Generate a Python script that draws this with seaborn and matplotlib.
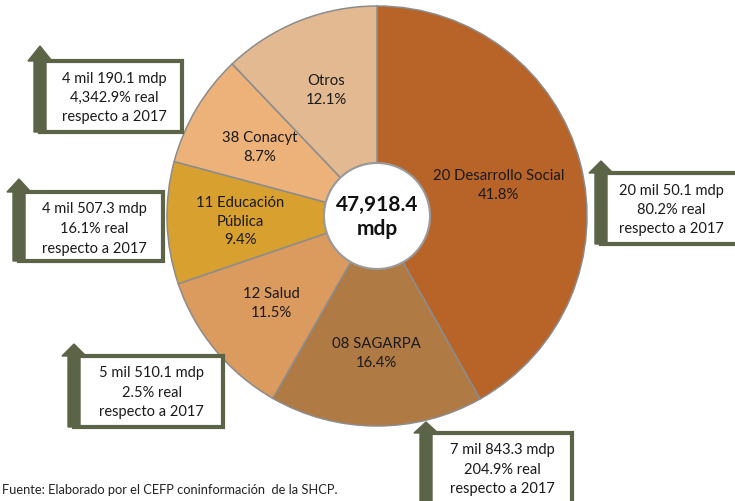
import numpy as np
import matplotlib.pyplot as plt
import seaborn as sns
from matplotlib.patches import Circle, Polygon, Rectangle

sns.set_theme(style="white")
plt.rcParams["font.family"] = ["Lato", "DejaVu Sans"]

# Data
ramos = ["20 Desarrollo Social", "08 SAGARPA", "12 Salud",
         "11 Educación\nPública", "38 Conacyt", "Otros"]
shares = [41.8, 16.4, 11.5, 9.4, 8.7, 12.1]
colors = ["#B86428", "#B07A45", "#DB9A5E", "#D8A02F", "#EDB27A", "#E2B990"]
total_label = "47,918.4\nmdp"

box_texts = [
    "4 mil 190.1 mdp\n4,342.9% real\nrespecto a 2017",
    "4 mil 507.3 mdp\n16.1% real\nrespecto a 2017",
    "5 mil 510.1 mdp\n2.5% real\nrespecto a 2017",
    "7 mil 843.3 mdp\n204.9% real\nrespecto a 2017",
    "20 mil 50.1 mdp\n80.2% real\nrespecto a 2017",
]
# shaft center x, arrow tip y, box top y, box bottom y, box right x (pixels)
box_geom = [
    (40, 47, 62, 133, 182),
    (19, 180, 193, 262, 163),
    (74, 345, 357, 428, 223),
    (426, 423, 434, 510, 572),
    (601, 162, 174, 245, 740),
]
source = "Fuente: Elaborado por el CEFP coninformación  de la SHCP."

W, H = 735, 502
fig = plt.figure(figsize=(W / 100, H / 100), dpi=100)
ax = fig.add_axes([0, 0, 1, 1])


def Y(py):
    return H - py


cx, cy, R, r_in = 377, Y(217), 210, 53
green = "#5B6447"

wedges, _ = ax.pie(shares, colors=colors, startangle=90, counterclock=False,
                   center=(cx, cy), radius=R, frame=True,
                   wedgeprops=dict(width=R - r_in, edgecolor="#8C8C8C", linewidth=1.1))
ax.set_xlim(0, W)
ax.set_ylim(0, H)
ax.axis("off")

for w, lab, s in zip(wedges, ramos, shares):
    mid = np.deg2rad((w.theta1 + w.theta2) / 2)
    rr = R * (0.6 if s > 40 else 0.65)
    ax.text(cx + rr * np.cos(mid), cy + rr * np.sin(mid), f"{lab}\n{s}%",
            ha="center", va="center", fontsize=10.7, color="#1A1A1A",
            linespacing=1.45)

ax.add_patch(Circle((cx, cy), r_in, facecolor="white", edgecolor="#9A9A9A", lw=1.5, zorder=5))
ax.text(cx, cy, total_label, ha="center", va="center", fontsize=15,
        fontweight="bold", color="#111111", linespacing=1.3, zorder=6)

for txt, (sx, tip, top, bot, right) in zip(box_texts, box_geom):
    ax.add_patch(Rectangle((sx, Y(bot)), right - sx, bot - top, facecolor="white",
                           edgecolor=green, lw=3, zorder=3))
    arrow = [(sx - 6, Y(bot)), (sx + 6, Y(bot)), (sx + 6, Y(top)), (sx + 12, Y(top)),
             (sx, Y(tip)), (sx - 12, Y(top)), (sx - 6, Y(top))]
    ax.add_patch(Polygon(arrow, closed=True, facecolor=green, edgecolor=green, lw=1, zorder=4))
    ax.text((sx + 6 + min(right, W)) / 2, Y(top + 36), txt, ha="center", va="center",
            fontsize=10.5, color="#1A1A1A", linespacing=1.5, zorder=5)

ax.text(2, Y(490), source, ha="left", va="center", fontsize=9.3, color="#222222")

fig.savefig("out.png", dpi=100)
